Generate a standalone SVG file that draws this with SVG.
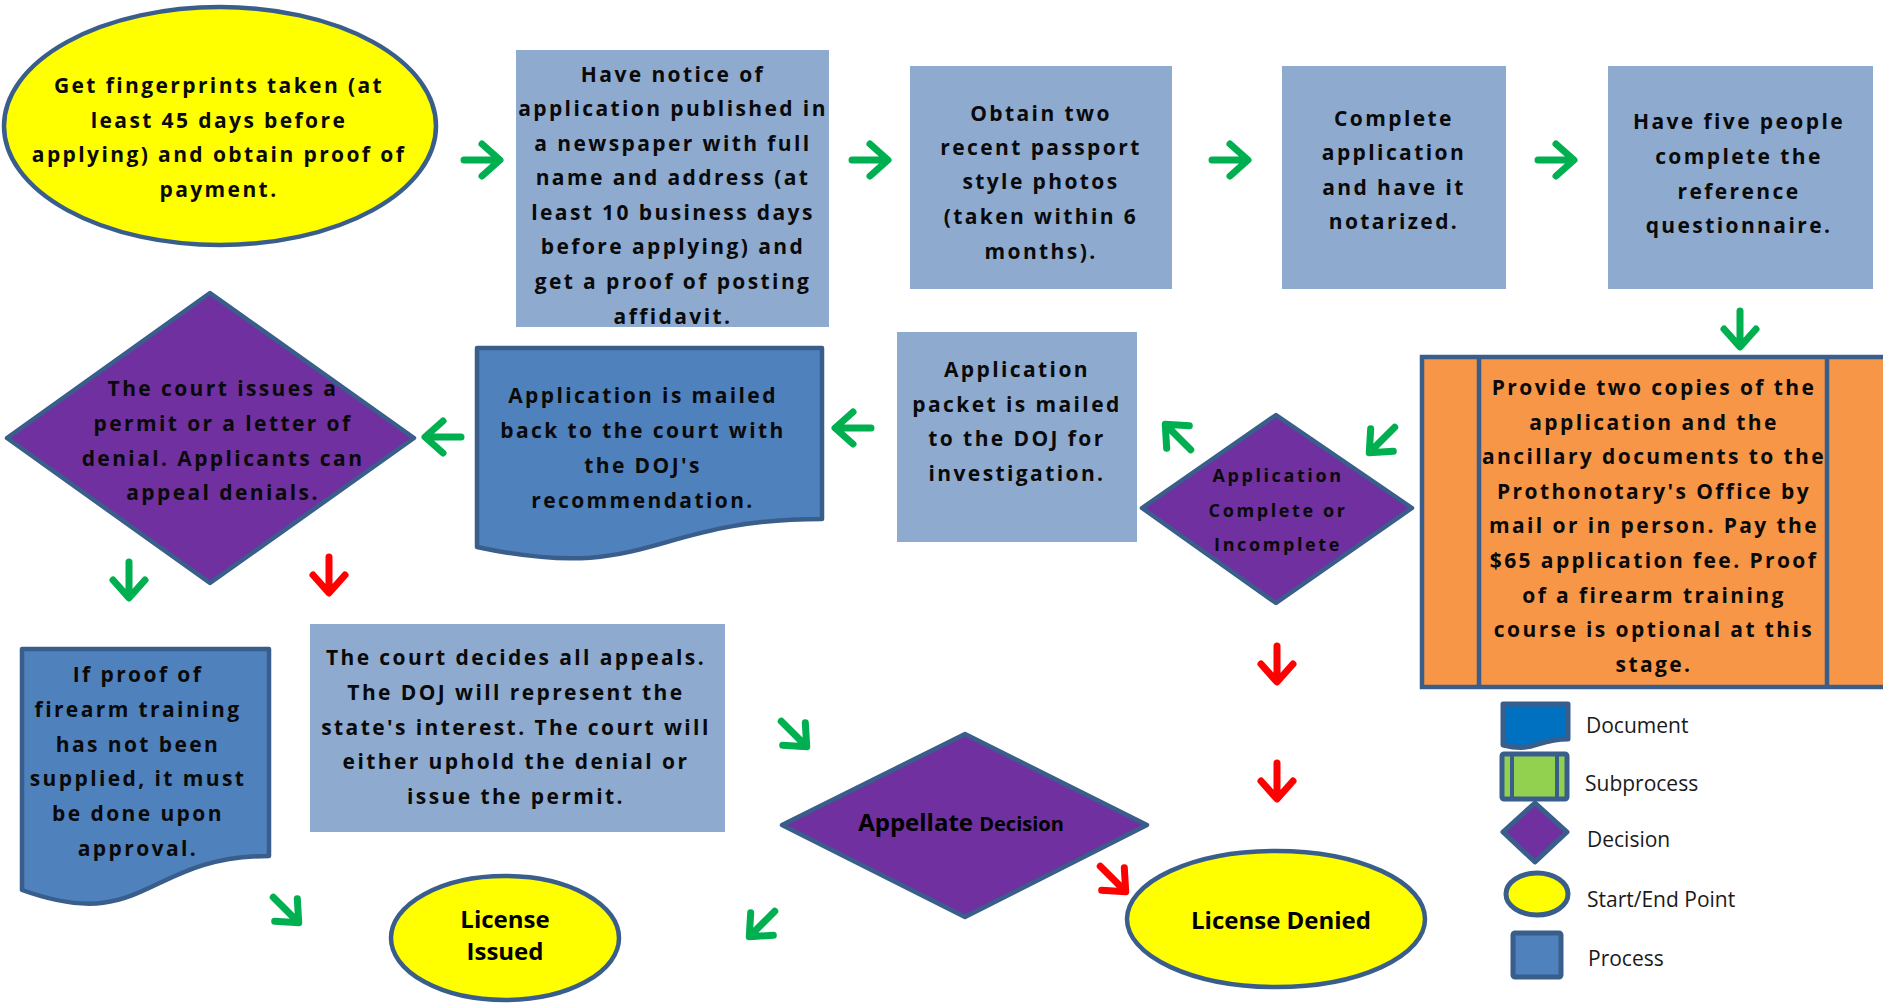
<svg xmlns="http://www.w3.org/2000/svg" width="1883" height="1003" viewBox="0 0 1883 1003">
<style>
.t{font-family:"Open Sans","DejaVu Sans",sans-serif;font-weight:700;font-size:21px;letter-spacing:2.4px;text-anchor:middle;fill:#0a0a0a}
.ts{font-family:"Open Sans","DejaVu Sans",sans-serif;font-weight:700;font-size:18px;letter-spacing:2.6px;text-anchor:middle;fill:#0a0a0a}
.tb{font-family:"Open Sans","DejaVu Sans",sans-serif;font-weight:700;font-size:24px;text-anchor:middle;fill:#000}
.lg{font-family:"Open Sans","DejaVu Sans",sans-serif;font-size:21px;fill:#1a1a1a}
.proc{fill:#8EAACF}
.term{fill:#FFFF00;stroke:#3A5E8C;stroke-width:4.5}
.dec{fill:#7030A0;stroke:#3A5E8C;stroke-width:4.5;stroke-linejoin:round}
.doc{fill:#4F81BD;stroke:#3A5E8C;stroke-width:4.5;stroke-linejoin:round}
.sub{fill:#F79646;stroke:#3A5E8C;stroke-width:4.5}
.g{stroke:#00B050}
.r{stroke:#FF0000}
</style>
<defs>
<path id="arw" d="M-18,0 H16 M0,-16 L18,0 L0,16" fill="none" stroke-width="7" stroke-linecap="round" stroke-linejoin="round"/>
</defs>

<g id="n-fingerprints">
<ellipse class="term" cx="220" cy="126" rx="216" ry="119"/>
<text class="t" x="219" y="93">Get fingerprints taken (at</text>
<text class="t" x="219" y="128">least 45 days before</text>
<text class="t" x="219" y="162">applying) and obtain proof of</text>
<text class="t" x="219" y="197">payment.</text>
</g>

<g id="n-notice">
<rect class="proc" x="516" y="50" width="313" height="277"/>
<text class="t" x="673" y="82">Have notice of</text>
<text class="t" x="673" y="116">application published in</text>
<text class="t" x="673" y="151">a newspaper with full</text>
<text class="t" x="673" y="185">name and address (at</text>
<text class="t" x="673" y="220">least 10 business days</text>
<text class="t" x="673" y="254">before applying) and</text>
<text class="t" x="673" y="289">get a proof of posting</text>
<text class="t" x="673" y="324">affidavit.</text>
</g>

<g id="n-photos">
<rect class="proc" x="910" y="66" width="262" height="223"/>
<text class="t" x="1041" y="121">Obtain two</text>
<text class="t" x="1041" y="155">recent passport</text>
<text class="t" x="1041" y="189">style photos</text>
<text class="t" x="1041" y="224">(taken within 6</text>
<text class="t" x="1041" y="259">months).</text>
</g>

<g id="n-complete">
<rect class="proc" x="1282" y="66" width="224" height="223"/>
<text class="t" x="1394" y="126">Complete</text>
<text class="t" x="1394" y="160">application</text>
<text class="t" x="1394" y="195">and have it</text>
<text class="t" x="1394" y="229">notarized.</text>
</g>

<g id="n-reference">
<rect class="proc" x="1608" y="66" width="265" height="223"/>
<text class="t" x="1739" y="129">Have five people</text>
<text class="t" x="1739" y="164">complete the</text>
<text class="t" x="1739" y="199">reference</text>
<text class="t" x="1739" y="233">questionnaire.</text>
</g>

<g id="n-provide">
<rect class="sub" x="1422" y="357" width="470" height="330"/>
<line x1="1479" y1="357" x2="1479" y2="687" stroke="#3A5E8C" stroke-width="4.5"/>
<line x1="1827" y1="357" x2="1827" y2="687" stroke="#3A5E8C" stroke-width="4.5"/>
<text class="t" x="1654" y="395">Provide two copies of the</text>
<text class="t" x="1654" y="430">application and the</text>
<text class="t" x="1654" y="464">ancillary documents to the</text>
<text class="t" x="1654" y="499">Prothonotary's Office by</text>
<text class="t" x="1654" y="533">mail or in person. Pay the</text>
<text class="t" x="1654" y="568">$65 application fee. Proof</text>
<text class="t" x="1654" y="603">of a firearm training</text>
<text class="t" x="1654" y="637">course is optional at this</text>
<text class="t" x="1654" y="672">stage.</text>
</g>

<g id="n-appcomplete">
<polygon class="dec" points="1276,415 1412,508 1276,603 1142,508"/>
<text class="ts" x="1278" y="482">Application</text>
<text class="ts" x="1278" y="517">Complete or</text>
<text class="ts" x="1278" y="551">Incomplete</text>
</g>

<g id="n-packet">
<rect class="proc" x="897" y="332" width="240" height="210"/>
<text class="t" x="1017" y="377">Application</text>
<text class="t" x="1017" y="412">packet is mailed</text>
<text class="t" x="1017" y="446">to the DOJ for</text>
<text class="t" x="1017" y="481">investigation.</text>
</g>

<g id="n-mailedback">
<path class="doc" d="M477,348 H822 V519 C649.5,519 649.5,584 477,547 Z"/>
<text class="t" x="643" y="403">Application is mailed</text>
<text class="t" x="643" y="438">back to the court with</text>
<text class="t" x="643" y="473">the DOJ's</text>
<text class="t" x="643" y="508">recommendation.</text>
</g>

<g id="n-courtissues">
<polygon class="dec" points="210,293 414,438 210,583 7,438"/>
<text class="t" x="223" y="396">The court issues a</text>
<text class="t" x="223" y="431">permit or a letter of</text>
<text class="t" x="223" y="466">denial. Applicants can</text>
<text class="t" x="223" y="500">appeal denials.</text>
</g>

<g id="n-proof">
<path class="doc" d="M22,649 H269 V856 C145.5,856 145.5,934.6 22,890 Z"/>
<text class="t" x="138" y="682">If proof of</text>
<text class="t" x="138" y="717">firearm training</text>
<text class="t" x="138" y="752">has not been</text>
<text class="t" x="138" y="786">supplied, it must</text>
<text class="t" x="138" y="821">be done upon</text>
<text class="t" x="138" y="856">approval.</text>
</g>

<g id="n-appeals">
<rect class="proc" x="310" y="624" width="415" height="208"/>
<text class="t" x="516" y="665">The court decides all appeals.</text>
<text class="t" x="516" y="700">The DOJ will represent the</text>
<text class="t" x="516" y="735">state's interest. The court will</text>
<text class="t" x="516" y="769">either uphold the denial or</text>
<text class="t" x="516" y="804">issue the permit.</text>
</g>

<g id="n-appellate">
<polygon class="dec" points="965,734 1147,825 965,917 782,825"/>
<text class="tb" x="961" y="831">Appellate <tspan font-size="20px">Decision</tspan></text>
</g>

<g id="n-issued">
<ellipse class="term" cx="505" cy="938" rx="114" ry="62"/>
<text class="tb" x="505" y="928" font-size="23px">License</text>
<text class="tb" x="505" y="960" font-size="23px">Issued</text>
</g>

<g id="n-denied">
<ellipse class="term" cx="1276" cy="919" rx="149" ry="68"/>
<text class="tb" x="1281" y="929">License Denied</text>
</g>

<g id="connectors">
<use href="#arw" class="g" transform="translate(482,160)"/>
<use href="#arw" class="g" transform="translate(870,160)"/>
<use href="#arw" class="g" transform="translate(1230,160)"/>
<use href="#arw" class="g" transform="translate(1556,160)"/>
<use href="#arw" class="g" transform="translate(1740,329) rotate(90)"/>
<use href="#arw" class="g" transform="translate(1382,440) rotate(135)"/>
<use href="#arw" class="g" transform="translate(1178,437) rotate(225)"/>
<use href="#arw" class="g" transform="translate(853,428) rotate(180)"/>
<use href="#arw" class="g" transform="translate(443,437) rotate(180)"/>
<use href="#arw" class="g" transform="translate(129,580) rotate(90)"/>
<use href="#arw" class="r" transform="translate(329,575) rotate(90)"/>
<use href="#arw" class="r" transform="translate(1277,664) rotate(90)"/>
<use href="#arw" class="r" transform="translate(1277,781) rotate(90)"/>
<use href="#arw" class="g" transform="translate(286,910) rotate(45)"/>
<use href="#arw" class="g" transform="translate(794,734) rotate(45)"/>
<use href="#arw" class="r" transform="translate(1113,879) rotate(45)"/>
<use href="#arw" class="g" transform="translate(762,924) rotate(135)"/>
</g>

<g id="legend">
<g id="lg-document">
<path d="M1503,704 H1568 V739 C1535.5,739 1535.5,753 1503,745 Z" fill="#0070C0" stroke="#3A5E8C" stroke-width="5" stroke-linejoin="round"/>
<text class="lg" x="1586" y="733">Document</text>
</g>
<g id="lg-subprocess">
<rect x="1502" y="754" width="65" height="45" rx="2" fill="#92D050" stroke="#3A5E8C" stroke-width="5"/>
<line x1="1512" y1="754" x2="1512" y2="799" stroke="#3A5E8C" stroke-width="4"/>
<line x1="1557" y1="754" x2="1557" y2="799" stroke="#3A5E8C" stroke-width="4"/>
<text class="lg" x="1585" y="791">Subprocess</text>
</g>
<g id="lg-decision">
<polygon points="1535,803 1567,832 1535,862 1503,832" fill="#7030A0" stroke="#3A5E8C" stroke-width="5" stroke-linejoin="round"/>
<text class="lg" x="1587" y="847">Decision</text>
</g>
<g id="lg-start">
<ellipse cx="1537" cy="894" rx="31" ry="21" fill="#FFFF00" stroke="#3A5E8C" stroke-width="5"/>
<text class="lg" x="1587" y="907">Start/End Point</text>
</g>
<g id="lg-process">
<rect x="1513" y="933" width="48" height="44" rx="2" fill="#4F81BD" stroke="#3A5E8C" stroke-width="5"/>
<text class="lg" x="1588" y="966">Process</text>
</g>
</g>
</svg>
